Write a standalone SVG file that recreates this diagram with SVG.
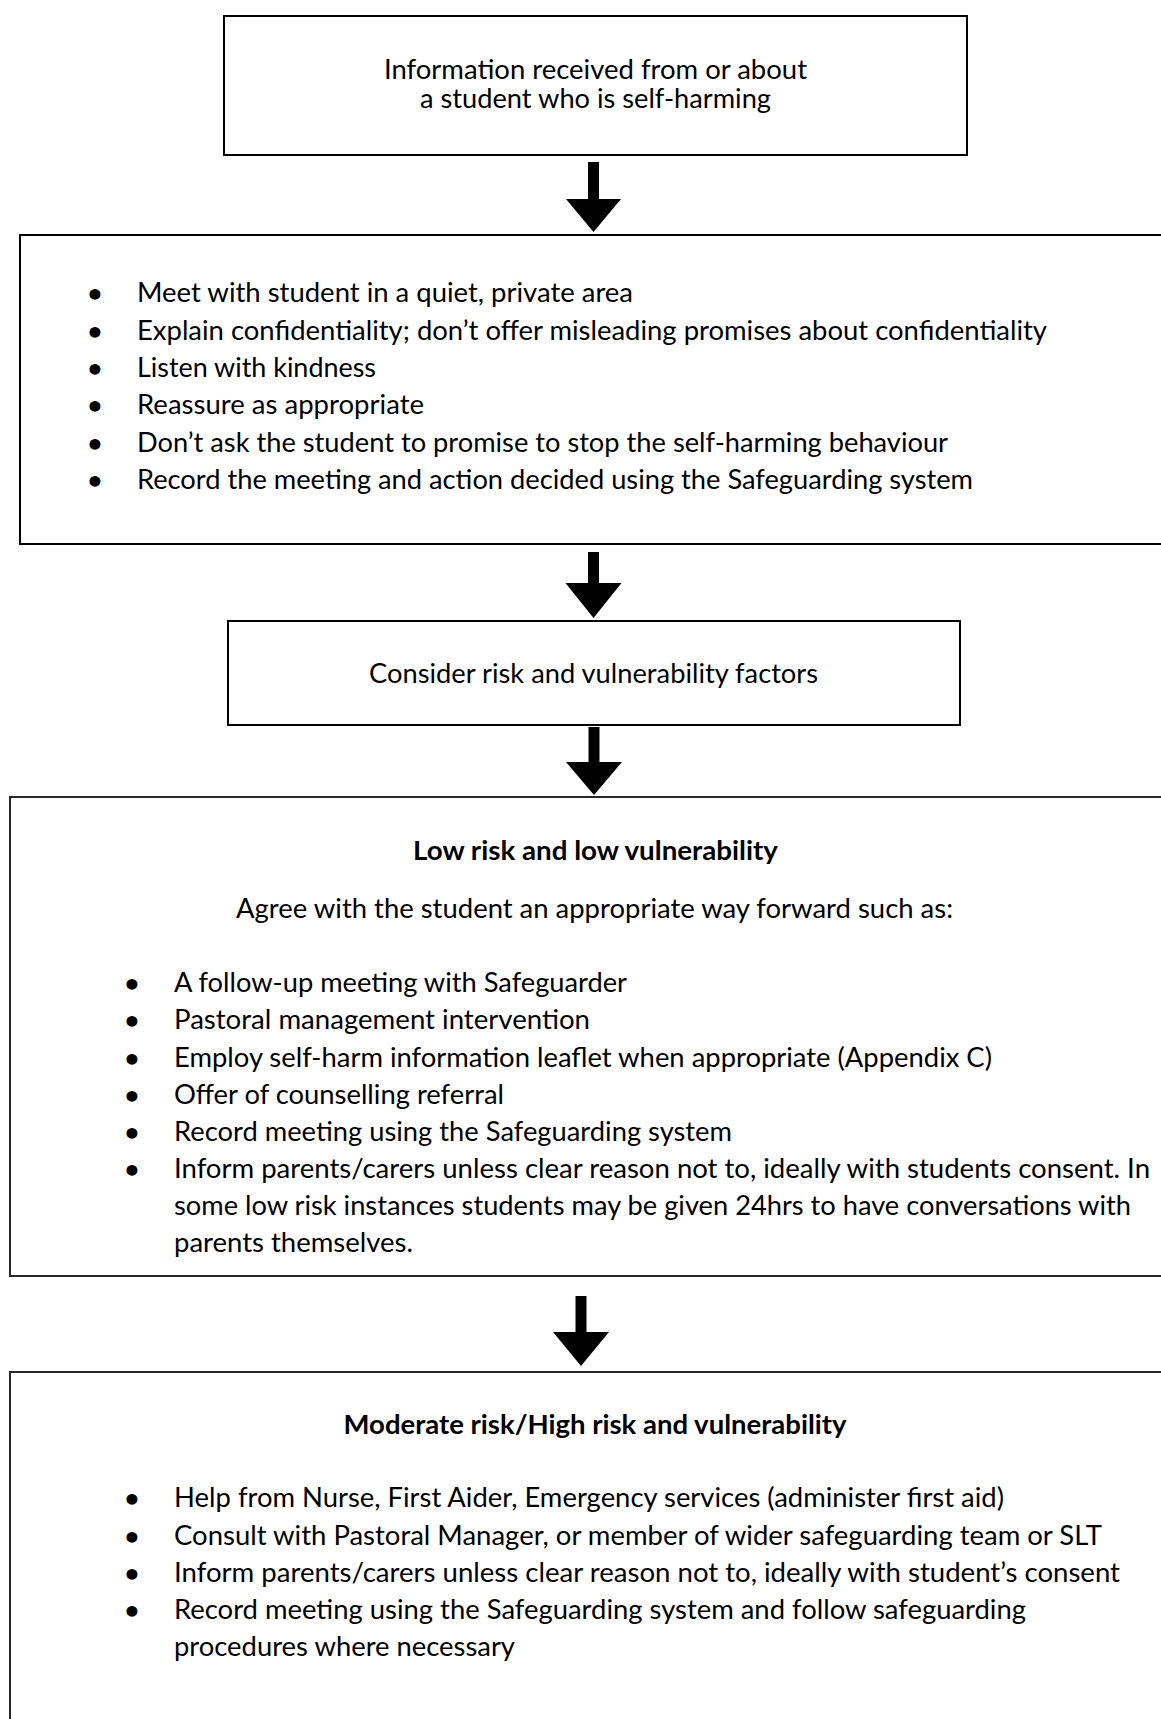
<svg xmlns="http://www.w3.org/2000/svg" width="1161" height="1719" viewBox="0 0 1161 1719">
<style>
.box{fill:#fff;stroke:#000;stroke-width:2}
.soft{stroke:#262626}
.t{font-family:Lato,'Liberation Sans',sans-serif;font-size:26px;fill:#000}
.b{font-weight:700}
.bul{font-family:'DejaVu Sans',sans-serif;font-size:31px;font-weight:700;fill:#000;text-anchor:middle}
.arrow{fill:#000;stroke:none}
</style>
<rect x="0" y="0" width="1161" height="1719" fill="#fff"/>

<g id="node-info">
<rect class="box" x="224" y="16" width="743" height="139"/>
<text class="t" x="384" y="79" textLength="423" lengthAdjust="spacingAndGlyphs">Information received from or about</text>
<text class="t" x="420" y="108" textLength="351" lengthAdjust="spacingAndGlyphs">a student who is self-harming</text>
</g>

<g id="node-meet">
<rect class="box" x="20" y="235" width="1160" height="309"/>
<text class="bul" x="95" y="306">•</text>
<text class="t" x="137" y="302" textLength="496" lengthAdjust="spacingAndGlyphs">Meet with student in a quiet, private area</text>
<text class="bul" x="95" y="343.5">•</text>
<text class="t" x="137" y="339.5" textLength="910" lengthAdjust="spacingAndGlyphs">Explain confidentiality; don’t offer misleading promises about confidentiality</text>
<text class="bul" x="95" y="381">•</text>
<text class="t" x="137" y="377" textLength="239" lengthAdjust="spacingAndGlyphs">Listen with kindness</text>
<text class="bul" x="95" y="418">•</text>
<text class="t" x="137" y="414" textLength="287" lengthAdjust="spacingAndGlyphs">Reassure as appropriate</text>
<text class="bul" x="95" y="455.5">•</text>
<text class="t" x="137" y="451.5" textLength="811" lengthAdjust="spacingAndGlyphs">Don’t ask the student to promise to stop the self-harming behaviour</text>
<text class="bul" x="95" y="493">•</text>
<text class="t" x="137" y="489" textLength="836" lengthAdjust="spacingAndGlyphs">Record the meeting and action decided using the Safeguarding system</text>
</g>

<g id="node-consider">
<rect class="box" x="228" y="621" width="732" height="104"/>
<text class="t" x="369" y="683" textLength="449" lengthAdjust="spacingAndGlyphs">Consider risk and vulnerability factors</text>
</g>

<g id="node-low">
<rect class="box soft" x="10" y="797" width="1170" height="479"/>
<text class="t b" x="413" y="860" textLength="365" lengthAdjust="spacingAndGlyphs">Low risk and low vulnerability</text>
<text class="t" x="236" y="918" textLength="717" lengthAdjust="spacingAndGlyphs">Agree with the student an appropriate way forward such as:</text>
<text class="bul" x="132" y="996">•</text>
<text class="t" x="174" y="992" textLength="453" lengthAdjust="spacingAndGlyphs">A follow-up meeting with Safeguarder</text>
<text class="bul" x="132" y="1033">•</text>
<text class="t" x="174" y="1029" textLength="416" lengthAdjust="spacingAndGlyphs">Pastoral management intervention</text>
<text class="bul" x="132" y="1070.5">•</text>
<text class="t" x="174" y="1066.5" textLength="818" lengthAdjust="spacingAndGlyphs">Employ self-harm information leaflet when appropriate (Appendix C)</text>
<text class="bul" x="132" y="1108">•</text>
<text class="t" x="174" y="1104" textLength="330" lengthAdjust="spacingAndGlyphs">Offer of counselling referral</text>
<text class="bul" x="132" y="1145">•</text>
<text class="t" x="174" y="1141" textLength="558" lengthAdjust="spacingAndGlyphs">Record meeting using the Safeguarding system</text>
<text class="bul" x="132" y="1182">•</text>
<text class="t" x="174" y="1178" textLength="976" lengthAdjust="spacingAndGlyphs">Inform parents/carers unless clear reason not to, ideally with students consent. In</text>
<text class="t" x="174" y="1215" textLength="957" lengthAdjust="spacingAndGlyphs">some low risk instances students may be given 24hrs to have conversations with</text>
<text class="t" x="174" y="1252" textLength="239" lengthAdjust="spacingAndGlyphs">parents themselves.</text>
</g>

<g id="node-high">
<rect class="box soft" x="10" y="1372" width="1170" height="400"/>
<text class="t b" x="343.5" y="1434" textLength="503" lengthAdjust="spacingAndGlyphs">Moderate risk/High risk and vulnerability</text>
<text class="bul" x="132" y="1511">•</text>
<text class="t" x="174" y="1507" textLength="830" lengthAdjust="spacingAndGlyphs">Help from Nurse, First Aider, Emergency services (administer first aid)</text>
<text class="bul" x="132" y="1548.5">•</text>
<text class="t" x="174" y="1544.5" textLength="928" lengthAdjust="spacingAndGlyphs">Consult with Pastoral Manager, or member of wider safeguarding team or SLT</text>
<text class="bul" x="132" y="1586">•</text>
<text class="t" x="174" y="1582" textLength="946" lengthAdjust="spacingAndGlyphs">Inform parents/carers unless clear reason not to, ideally with student’s consent</text>
<text class="bul" x="132" y="1623">•</text>
<text class="t" x="174" y="1619" textLength="852" lengthAdjust="spacingAndGlyphs">Record meeting using the Safeguarding system and follow safeguarding</text>
<text class="t" x="174" y="1656" textLength="341" lengthAdjust="spacingAndGlyphs">procedures where necessary</text>
</g>

<g id="connectors">
<path class="arrow" d="M588,162 H599 V199 H621 L593.5,232 L566,199 H588 Z"/>
<path class="arrow" d="M588,552 H599 V583 H621.5 L593.5,618 L565.5,583 H588 Z"/>
<path class="arrow" d="M588.5,727 H599.5 V762 H622 L594,795 L566,762 H588.5 Z"/>
<path class="arrow" d="M575.5,1296 H586.5 V1332 H609 L581,1366 L553,1332 H575.5 Z"/>
</g>
</svg>
